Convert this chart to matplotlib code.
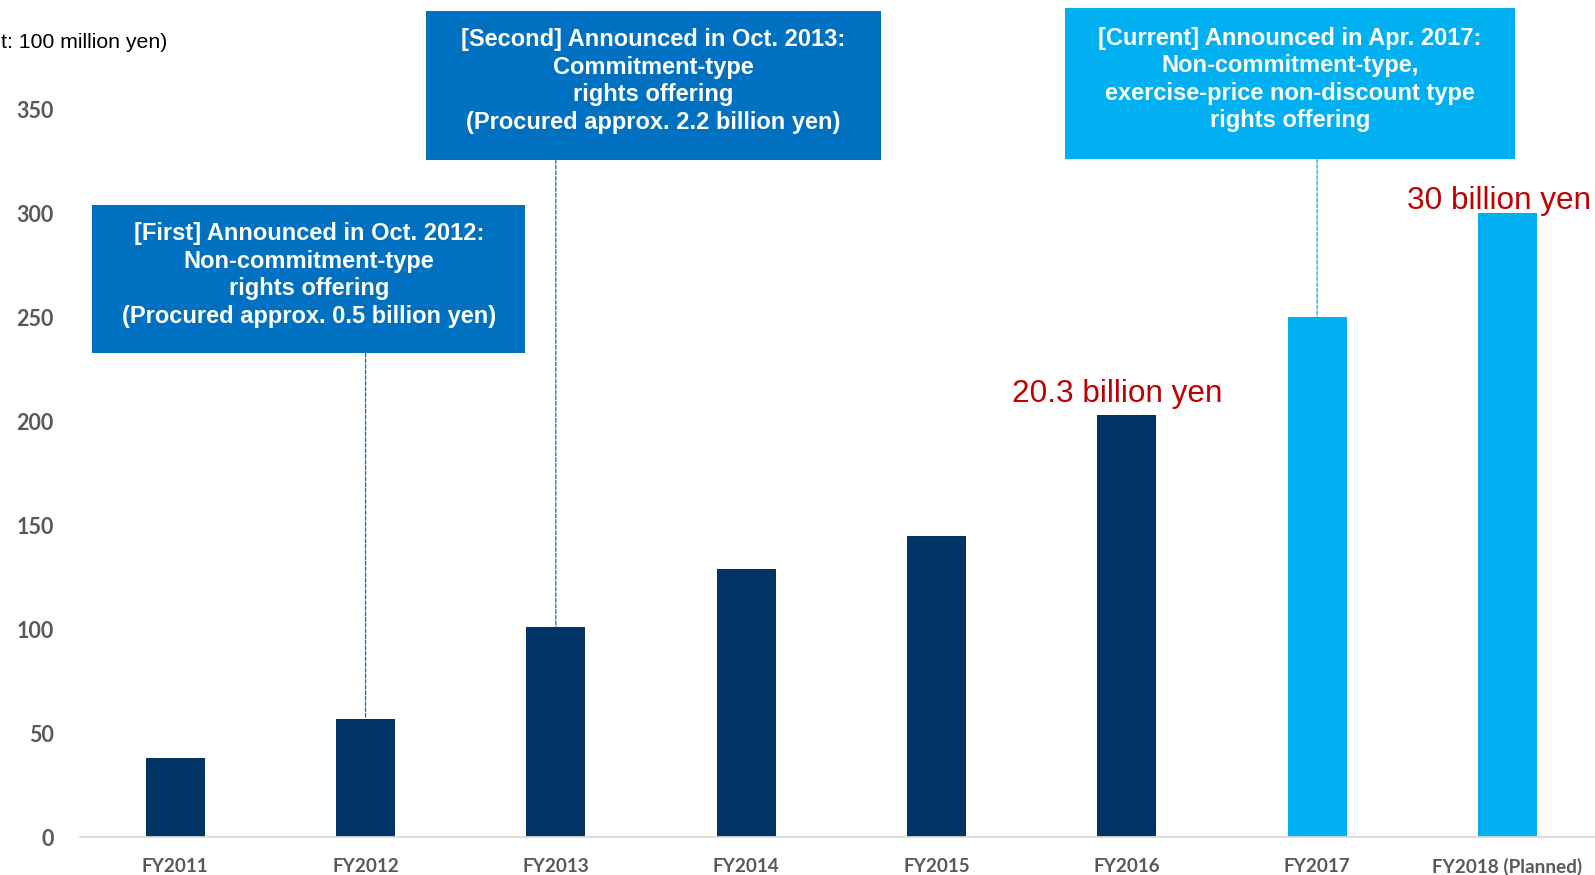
import matplotlib
matplotlib.use("Agg")
import matplotlib.pyplot as plt
from matplotlib.patches import Rectangle

# Funds procured per fiscal year (unit: 100 million yen)
years = ["FY2011", "FY2012", "FY2013", "FY2014", "FY2015", "FY2016", "FY2017", "FY2018 (Planned)"]
amounts = [38, 57, 101, 129, 145, 203, 250, 300]
bar_colors = ["#003366"] * 6 + ["#00B0F0"] * 2
yticks = [0, 50, 100, 150, 200, 250, 300, 350]

# Offering announcements: text, which bar the box points to, box colour
offer_texts = [
    "[First] Announced in Oct. 2012:\nNon-commitment-type\nrights offering\n(Procured approx. 0.5 billion yen)",
    "[Second] Announced in Oct. 2013:\nCommitment-type\nrights offering\n(Procured approx. 2.2 billion yen)",
    "[Current] Announced in Apr. 2017:\nNon-commitment-type,\nexercise-price non-discount type\nrights offering",
]
offer_bar = [1, 2, 6]
offer_colors = ["#0070C0", "#0070C0", "#00B0F0"]
# box extents in figure fraction: left, bottom, width, height
offer_boxes = [
    (0.0579, 0.5962, 0.2713, 0.1695),
    (0.2671, 0.8175, 0.2853, 0.1697),
    (0.6677, 0.8183, 0.2821, 0.1720),
]

fig = plt.figure(figsize=(15.95, 8.75), dpi=100)
ax = fig.add_axes([0.0502, 0.0429, 0.9498, 0.9571])

x = range(len(years))
ax.bar(x, amounts, width=0.31, color=bar_colors, zorder=2)

ax.set_xlim(-0.5, 7.46)
ax.set_ylim(0, 402.4)
ax.set_yticks(yticks)
ax.set_xticks(list(x))
ax.set_xticklabels(years)
for spine in ["top", "right", "left"]:
    ax.spines[spine].set_visible(False)
ax.spines["bottom"].set_color("#D9D9D9")
ax.spines["bottom"].set_linewidth(1.3)
ax.tick_params(axis="y", length=0, pad=19, labelsize=15.5, labelcolor="#595959")
ax.tick_params(axis="x", length=0, pad=15, labelsize=13.6, labelcolor="#595959")
for lab in ax.get_xticklabels() + ax.get_yticklabels():
    lab.set_fontfamily("Lato")
    lab.set_fontweight("bold")

# unit note, partly cut off at the left edge
fig.text(167 / 1595, 1 - 42 / 875, "(Unit: 100 million yen)", ha="right", va="center",
         fontsize=15.3, family="Liberation Sans", color="black")

# announcement boxes with dashed leaders down to their bars
for txt, bi, col, (l, b, w, h) in zip(offer_texts, offer_bar, offer_colors, offer_boxes):
    fig.patches.append(Rectangle((l, b), w, h, transform=fig.transFigure,
                                 facecolor=col, edgecolor="none", zorder=3))
    fig.text(l + w / 2, b + h / 2 + 0.005, txt, ha="center", va="center", color="white",
             fontsize=17, fontweight="bold", family="Liberation Sans",
             linespacing=1.25, zorder=4)
    ax.annotate("", xy=(bi, amounts[bi]), xycoords="data",
                xytext=(bi, b), textcoords=("data", "figure fraction"),
                arrowprops=dict(arrowstyle="-", color=col, lw=0.9,
                                linestyle=(0, (3, 1.5)), shrinkA=0, shrinkB=0),
                annotation_clip=False)

# totals written above the FY2016 and FY2018 bars
ax.text(5 - 0.05, amounts[5] + 6, "20.3 billion yen", ha="center", va="baseline",
        fontsize=22.7, family="Liberation Sans", color="#C00000")
ax.text(7 - 0.045, amounts[7] + 2, "30 billion yen", ha="center", va="baseline",
        fontsize=22.7, family="Liberation Sans", color="#C00000", clip_on=False)

fig.savefig("out.png", dpi=100)
